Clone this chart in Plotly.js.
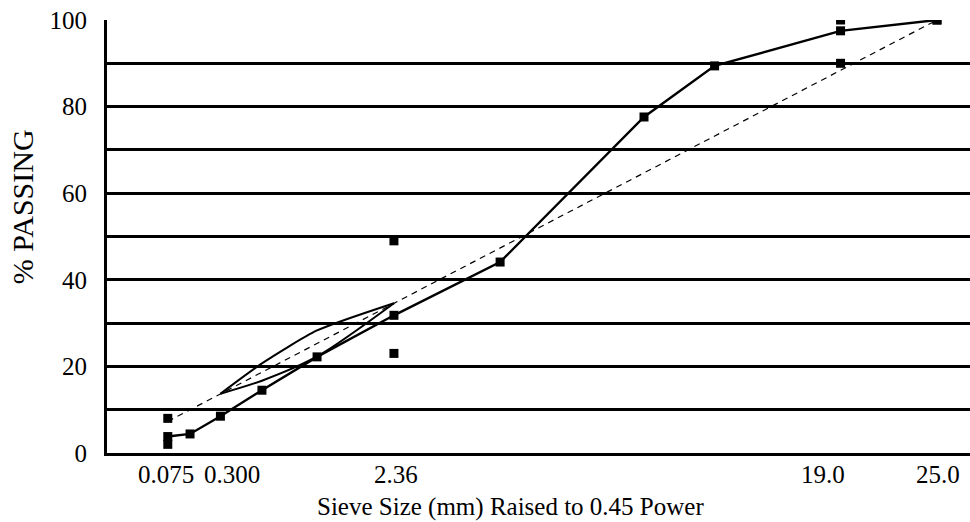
<!DOCTYPE html>
<html>
<head>
<meta charset="utf-8">
<script src="https://cdn.plot.ly/plotly-3.0.1.min.js"></script>
<style>html,body{margin:0;padding:0;background:#fff;}#chart{width:970px;height:522px;}</style>
</head>
<body>
<div id="chart"></div>
<script>
// Sieve sizes (mm) and percent passing of the blend gradation
var gradationSizes = [0.075, 0.15, 0.3, 0.6, 1.18, 2.36, 4.75, 9.5, 12.5, 19.0, 25.0];
var gradationPassing = [3.8, 4.4, 8.5, 14.5, 22.2, 31.8, 44.1, 77.6, 89.4, 97.5, 100];

// Control points (lower and upper limits)
var controlSizes = [0.075, 0.075, 2.36, 2.36, 19.0, 19.0, 25.0];
var controlPassing = [2, 8, 23, 49, 90, 100, 100];

// Maximum density line
var maxDensitySizes = [0.075, 25.0];
var maxDensityPassing = [7.3, 100];

// Restricted zone boundaries
var rzSizes = [0.3, 0.6, 1.18, 2.36];
var rzUpper = [13.7, 20.7, 28.3, 34.6];
var rzLower = [13.7, 16.7, 22.3, 34.6];

// Axis ticks
var xTickSizes = [0.075, 0.300, 2.36, 19.0, 25.0];
var xTickLabels = ['0.075', '0.300', '2.36', '19.0', '25.0'];
var yTickVals = [0, 10, 20, 30, 40, 50, 60, 70, 80, 90, 100];
var yTickLabels = ['0', '', '20', '', '40', '', '60', '', '80', '', '100'];

// label nudges in pixels (style only)
var xLabelShift = [-2, 12, 2, -18, 1];

var P = 0.45;
function pw(a) { return a.map(function (v) { return Math.pow(v, P); }); }

var font = 'Liberation Serif';

var traces = [
  {
    x: pw(maxDensitySizes), y: maxDensityPassing, mode: 'lines',
    line: {color: '#000', width: 1.2, dash: '6px,5px'}, hoverinfo: 'skip'
  },
  {
    x: pw(rzSizes), y: rzUpper, mode: 'lines',
    line: {color: '#000', width: 2, shape: 'spline', smoothing: 0.6}, hoverinfo: 'skip'
  },
  {
    x: pw(rzSizes), y: rzLower, mode: 'lines',
    line: {color: '#000', width: 2, shape: 'spline', smoothing: 0.8}, hoverinfo: 'skip'
  },
  {
    x: pw(gradationSizes), y: gradationPassing, mode: 'lines+markers',
    line: {color: '#000', width: 2.4},
    marker: {symbol: 'square', size: 9, color: '#000'}
  },
  {
    x: pw(controlSizes), y: controlPassing, mode: 'markers',
    marker: {symbol: 'square', size: 9, color: '#000'}
  }
];

var annotations = xTickLabels.map(function (t, i) {
  return {
    text: t, xref: 'x', yref: 'paper', x: Math.pow(xTickSizes[i], P), y: -0.05,
    xshift: xLabelShift[i], xanchor: 'center', yanchor: 'middle', showarrow: false,
    font: {family: font, size: 25, color: '#000'}
  };
});
annotations.push({
  text: 'Sieve Size (mm) Raised to 0.45 Power',
  xref: 'paper', yref: 'paper', x: 0.467, y: -0.125,
  xanchor: 'center', yanchor: 'middle', showarrow: false,
  font: {family: font, size: 25, color: '#000'}
});
annotations.push({
  text: '% PASSING', textangle: -90,
  xref: 'paper', yref: 'paper', x: -0.0985, y: 0.57,
  xanchor: 'center', yanchor: 'middle', showarrow: false,
  font: {family: font, size: 30, color: '#000'}
});

var layout = {
  width: 970, height: 522,
  margin: {l: 107, r: 0, t: 20, b: 69},
  paper_bgcolor: '#fff', plot_bgcolor: '#fff',
  showlegend: false,
  font: {family: font, color: '#000', size: 25},
  xaxis: {
    range: [0, 4.426],
    showticklabels: false,
    ticks: '', showgrid: false, zeroline: false,
    showline: true, linecolor: '#000', linewidth: 3
  },
  yaxis: {
    range: [0, 100],
    tickvals: yTickVals, ticktext: yTickLabels,
    ticks: '', showgrid: true, gridcolor: '#000', gridwidth: 3,
    zeroline: false,
    showline: true, linecolor: '#000', linewidth: 3,
    tickfont: {family: font, size: 25, color: '#000'},
    ticklabelstandoff: 12
  },
  annotations: annotations
};

Plotly.newPlot('chart', traces, layout, {displayModeBar: false, staticPlot: true});
</script>
</body>
</html>
